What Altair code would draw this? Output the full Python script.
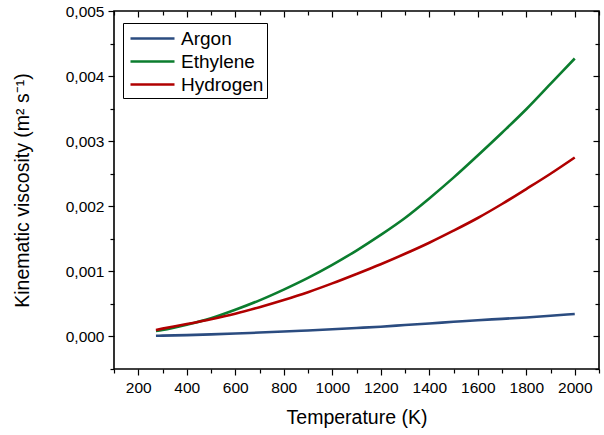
import altair as alt
import pandas as pd

# Data
temperature = [273, 300, 400, 500, 600, 700, 800, 900, 1000, 1100, 1200,
               1300, 1400, 1500, 1600, 1700, 1800, 1900, 2000]
argon = [0.010, 0.012, 0.020, 0.032, 0.045, 0.060, 0.075, 0.092, 0.110, 0.130,
         0.150, 0.175, 0.200, 0.225, 0.250, 0.270, 0.292, 0.318, 0.345]
ethylene = [0.085, 0.100, 0.180, 0.280, 0.410, 0.555, 0.720, 0.900, 1.100, 1.320,
            1.560, 1.820, 2.120, 2.440, 2.780, 3.130, 3.490, 3.880, 4.270]
hydrogen = [0.100, 0.120, 0.190, 0.265, 0.350, 0.450, 0.560, 0.680, 0.815, 0.960,
            1.110, 1.270, 1.440, 1.625, 1.820, 2.035, 2.265, 2.500, 2.750]

gases = ["Argon", "Ethylene", "Hydrogen"]
colors = ["#2b4c80", "#0b7d2e", "#b00000"]

x_ticks = list(range(100, 2101, 100))
y_ticks = [round(-0.0005 + 0.0005 * i, 4) for i in range(12)]

rows = []
for name, series in zip(gases, [argon, ethylene, hydrogen]):
    for t, v in zip(temperature, series):
        rows.append({"T": t, "nu": v / 1000.0, "Gas": name})
df = pd.DataFrame(rows)

FONT = "Liberation Sans"

x_major_test = "datum.value % 200 === 0"
y_major_test = "abs(datum.value*1000 - round(datum.value*1000)) < 0.001"

x_scale = alt.Scale(domain=[100, 2100], nice=False, zero=False)
y_scale = alt.Scale(domain=[-0.0005, 0.005], nice=False, zero=False)

x_bottom = alt.Axis(
    orient="bottom", values=x_ticks, title="Temperature (K)",
    labelExpr="datum.value % 200 === 0 ? datum.label : ''",
    format="d", domain=False, grid=False,
    tickSize={"condition": {"test": x_major_test, "value": 6}, "value": 4},
    tickColor="black", tickWidth=1.2,
    labelFont=FONT, labelFontSize=15.5, labelColor="black", labelPadding=5,
    titleFont=FONT, titleFontSize=19.5, titleFontWeight="normal", titleColor="black",
    titlePadding=13,
)
y_left = alt.Axis(
    orient="left", values=y_ticks, title="Kinematic viscosity (m² s⁻¹)",
    labelExpr="abs(datum.value*1000 - round(datum.value*1000)) < 0.001 ? replace(format(datum.value, '.3f'), '.', ',') : ''",
    domain=False, grid=False,
    tickSize={"condition": {"test": y_major_test, "value": 6}, "value": 4},
    tickColor="black", tickWidth=1.2,
    labelFont=FONT, labelFontSize=15.5, labelColor="black", labelPadding=4,
    titleFont=FONT, titleFontSize=19.5, titleFontWeight="normal", titleColor="black",
    titlePadding=33,
)
x_top = alt.Axis(
    orient="top", values=x_ticks, title=None, labels=False, domain=False, grid=False,
    tickSize={"condition": {"test": x_major_test, "value": -6}, "value": -4},
    tickColor="black", tickWidth=1.2,
)
y_right = alt.Axis(
    orient="right", values=y_ticks, title=None, labels=False, domain=False, grid=False,
    tickSize={"condition": {"test": y_major_test, "value": -6}, "value": -4},
    tickColor="black", tickWidth=1.2,
)

lines = alt.Chart(df).mark_line(strokeWidth=2.6, interpolate="monotone").encode(
    x=alt.X("T:Q", scale=x_scale, axis=x_bottom),
    y=alt.Y("nu:Q", scale=y_scale, axis=y_left),
    color=alt.Color(
        "Gas:N",
        scale=alt.Scale(domain=gases, range=colors),
        legend=alt.Legend(
            title=None, orient="none", legendX=9, legendY=12,
            symbolType="M-2,0H2", symbolStrokeWidth=2.6, symbolSize=484,
            symbolOffset=14, labelOffset=16,
            labelFont=FONT, labelFontSize=19, labelColor="black",
            strokeColor="black", fillColor="white", padding=3,
            rowPadding=0,
        ),
    ),
    order=alt.Order("Gas:N"),
)

mirror = alt.Chart(df).mark_line(opacity=0).encode(
    x=alt.X("T:Q", scale=x_scale, axis=x_top),
    y=alt.Y("nu:Q", scale=y_scale, axis=y_right),
    detail="Gas:N",
)

chart = (
    alt.layer(lines, mirror)
    .resolve_axis(x="independent", y="independent")
    .properties(
        width=485, height=358,
        autosize=alt.AutoSizeParams(type="none"),
        padding={"left": 114, "top": 11, "right": 5, "bottom": 66},
        background="white",
    )
    .configure_view(stroke="black", strokeWidth=1.6)
)

chart.save("out.html", embed_options={"renderer": "svg", "actions": False})
